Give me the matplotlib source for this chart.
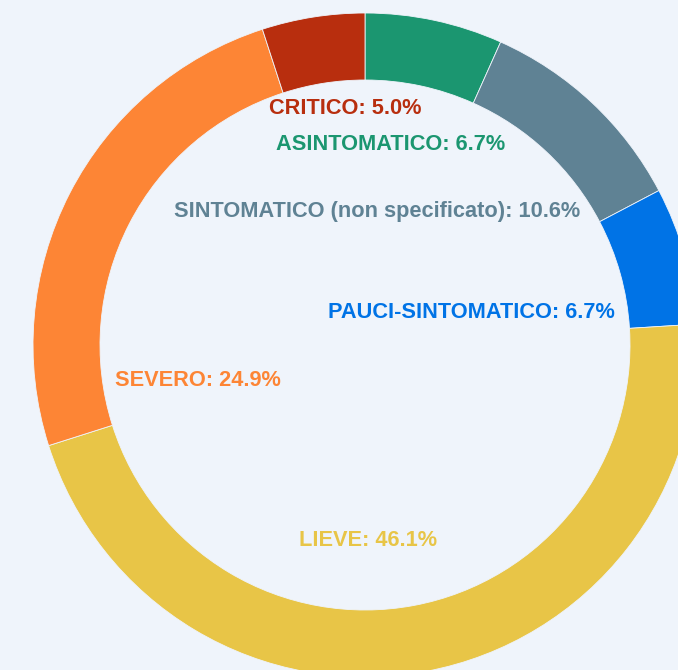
import matplotlib
matplotlib.use('Agg')
from matplotlib import pyplot as plt

# dati (ordine orario partendo dall'alto)
categories = ['ASINTOMATICO', 'SINTOMATICO (non specificato)', 'PAUCI-SINTOMATICO',
              'LIEVE', 'SEVERO', 'CRITICO']
percent = [6.7, 10.6, 6.7, 46.1, 24.9, 5.0]
colors = ['#1b9670', '#5f8294', '#0073e6', '#e8c547', '#fd8535', '#b82e0e']

# posizione delle etichette (pixel, origine in alto a sinistra)
label_pos = [(391, 144), (377, 211), (471, 312), (368, 541), (198, 380), (345, 108)]

W, H = 678, 670
bg = '#eff4fb'

fig = plt.figure(figsize=(W / 100, H / 100), dpi=100, facecolor=bg)
ax = fig.add_axes([0, 0, 1, 1])
ax.set_facecolor(bg)

R = 332
ax.pie(percent, colors=colors, startangle=90, counterclock=False,
       center=(365, H - 345), radius=R,
       wedgeprops=dict(width=67, edgecolor=bg, linewidth=0.6))

for name, val, c, (x, y) in zip(categories, percent, colors, label_pos):
    ax.text(x, H - y, '%s: %.1f%%' % (name, val), color=c, fontsize=15.7,
            fontweight='bold', family='Liberation Sans', ha='center', va='center')

ax.set_xlim(0, W)
ax.set_ylim(0, H)
ax.set_aspect('equal')
ax.axis('off')
plt.savefig('out.png', dpi=100, facecolor=bg)
